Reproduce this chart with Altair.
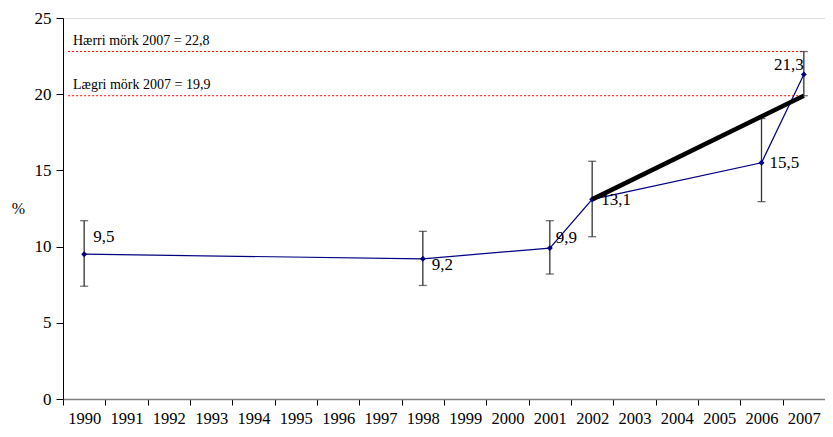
import altair as alt
import pandas as pd

# Categories on the x axis
all_years = [str(y) for y in range(1990, 2008)]

# Observed series
years = ["1990", "1998", "2001", "2002", "2006", "2007"]
values = [9.5, 9.2, 9.9, 13.1, 15.5, 21.3]
labels = ["9,5", "9,2", "9,9", "13,1", "15,5", "21,3"]
err_low = [7.4, 7.45, 8.2, 10.65, 12.95, 19.9]
err_high = [11.7, 11.0, 11.7, 15.6, 18.4, 22.8]

# Trend line (thick black)
trend_years = ["2002", "2007"]
trend_values = [13.1, 19.9]

# Reference limits
ref_values = [22.8, 19.9]
ref_labels = ["Hærri mörk 2007 = 22,8", "Lægri mörk 2007 = 19,9"]

FONT = "Liberation Serif, Times New Roman, Times, serif"

df = pd.DataFrame({"year": years, "value": values, "label": labels,
                   "lo": err_low, "hi": err_high})
trend = pd.DataFrame({"year": trend_years, "value": trend_values})
refs = pd.DataFrame({"year": ["1990"] * 2, "end": ["2007"] * 2,
                     "value": ref_values, "label": ref_labels})

xscale = alt.Scale(domain=all_years, paddingInner=0, paddingOuter=0)
yscale = alt.Scale(domain=[0, 25], nice=False)

xaxis = alt.Axis(title=None, labelAngle=0, tickBand="extent", labelFont=FONT,
                 labelFontSize=16.5, labelColor="black", tickColor="black",
                 tickSize=6, labelPadding=5, domainColor="#808080",
                 domainWidth=1.5, grid=False)
yaxis = alt.Axis(title="%", titleAngle=0, titleFont=FONT, titleFontSize=16,
                 titleFontWeight="normal", titleColor="black", titleX=-45,
                 titleY=190, titleAlign="center", titleBaseline="middle",
                 values=[0, 5, 10, 15, 20, 25], labelFont=FONT,
                 labelFontSize=17, labelColor="black", tickColor="black",
                 tickSize=7, labelPadding=5, domainColor="black", grid=False)

X = alt.X("year:O", scale=xscale, axis=xaxis)
Y = alt.Y("value:Q", scale=yscale, axis=yaxis)

base = alt.Chart(df)

ref_rules = alt.Chart(refs).mark_rule(color="#ff0000", strokeDash=[2, 2],
                                      strokeWidth=1).encode(
    x=alt.X("year:O", scale=xscale, axis=xaxis, bandPosition=0.12),
    x2="end:O",
    y=Y,
)
ref_text = alt.Chart(refs).mark_text(font=FONT, fontSize=14, align="left",
                                     baseline="middle", dx=10, dy=-11,
                                     color="black").encode(
    x=alt.X("year:O", scale=xscale, axis=xaxis, bandPosition=0),
    y=Y,
    text="label:N",
)

err_rule = base.mark_rule(color="#333333", strokeWidth=1.3).encode(
    x=X, y=alt.Y("lo:Q", scale=yscale, axis=yaxis), y2="hi:Q")
cap_lo = base.mark_tick(color="#333333", size=8, thickness=1.3,
                        orient="horizontal").encode(
    x=X, y=alt.Y("lo:Q", scale=yscale, axis=yaxis))
cap_hi = base.mark_tick(color="#333333", size=8, thickness=1.3,
                        orient="horizontal").encode(
    x=X, y=alt.Y("hi:Q", scale=yscale, axis=yaxis))

line = base.mark_line(color="#000080", strokeWidth=1.2).encode(x=X, y=Y)
pts = base.mark_point(shape="diamond", filled=True, size=35, opacity=1,
                      color="#000080").encode(x=X, y=Y)
trend_line = alt.Chart(trend).mark_line(color="black", strokeWidth=4.5).encode(
    x=X, y=Y)

# label offsets (style only)
offsets = {"9,5": ("left", 9, -17), "9,2": ("left", 9, 6),
           "9,9": ("left", 6, -10), "13,1": ("left", 9, 1),
           "15,5": ("left", 8, 0), "21,3": ("right", 0, -9)}
label_layers = []
for lab, (al, dx, dy) in offsets.items():
    label_layers.append(
        base.transform_filter(alt.datum.label == lab).mark_text(
            font=FONT, fontSize=17, align=al, baseline="middle", dx=dx,
            dy=dy, color="black").encode(x=X, y=Y, text="label:N"))

chart = alt.layer(ref_rules, ref_text, err_rule, cap_lo, cap_hi, line,
                  pts, trend_line, *label_layers).properties(
    width=762, height=381,
    autosize=alt.AutoSizeParams(type="none"),
    padding={"left": 55, "top": 10, "right": 0, "bottom": 30},
).configure_view(strokeWidth=0).configure(background="white")

chart.save("out.html", embed_options={"renderer": "svg", "actions": False})
